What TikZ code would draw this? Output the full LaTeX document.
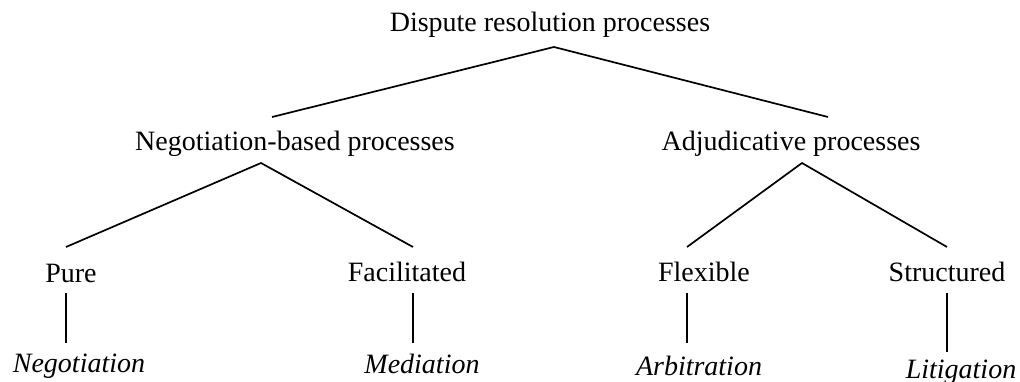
\documentclass[tikz,border=0pt]{standalone}
\usepackage{fontspec}
\setmainfont{Liberation Serif}
\begin{document}
\begin{tikzpicture}[x=1pt,y=-1pt,
  lbl/.style={anchor=base,inner sep=0pt,font=\fontsize{28}{30}\selectfont},
  leaf/.style={lbl,font=\fontsize{28}{30}\selectfont\itshape},
  link/.style={line width=1.7pt,line cap=butt}]
\useasboundingbox (0,0) rectangle (1020,382);
% labels
\node[lbl] (root) at (550,32) {Dispute resolution processes};
\node[lbl] (neg) at (295,151) {Negotiation-based processes};
\node[lbl] (adj) at (791,151) {Adjudicative processes};
\node[lbl] (pure) at (71,282) {Pure};
\node[lbl] (fac) at (407,281) {Facilitated};
\node[lbl] (flex) at (704,281) {Flexible};
\node[lbl] (struc) at (947,281) {Structured};
\node[leaf] (negot) at (79,372) {Negotiation};
\node[leaf] (med) at (422,373) {Mediation};
\node[leaf] (arb) at (699,375) {Arbitration};
\node[leaf] (lit) at (961,378) {Litigation};
% branch points
\coordinate (rootA) at (554,47);
\coordinate (negT) at (272,117);
\coordinate (adjT) at (828,117);
\coordinate (negA) at (261,163);
\coordinate (pureT) at (66,247);
\coordinate (facT) at (413,247);
\coordinate (adjA) at (802,163);
\coordinate (flexT) at (687,247);
\coordinate (strucT) at (947,247);
\coordinate (pureB) at (66,293);
\coordinate (negotT) at (66,343);
\coordinate (facB) at (413,293);
\coordinate (medT) at (413,343);
\coordinate (flexB) at (687,293);
\coordinate (arbT) at (687,343);
\coordinate (strucB) at (947,293);
\coordinate (litT) at (947,352);
% connectors
\draw[link] (negT) -- (rootA) -- (adjT);
\draw[link] (pureT) -- (negA) -- (facT);
\draw[link] (flexT) -- (adjA) -- (strucT);
\draw[link] (pureB) -- (negotT);
\draw[link] (facB) -- (medT);
\draw[link] (flexB) -- (arbT);
\draw[link] (strucB) -- (litT);
\end{tikzpicture}
\end{document}
